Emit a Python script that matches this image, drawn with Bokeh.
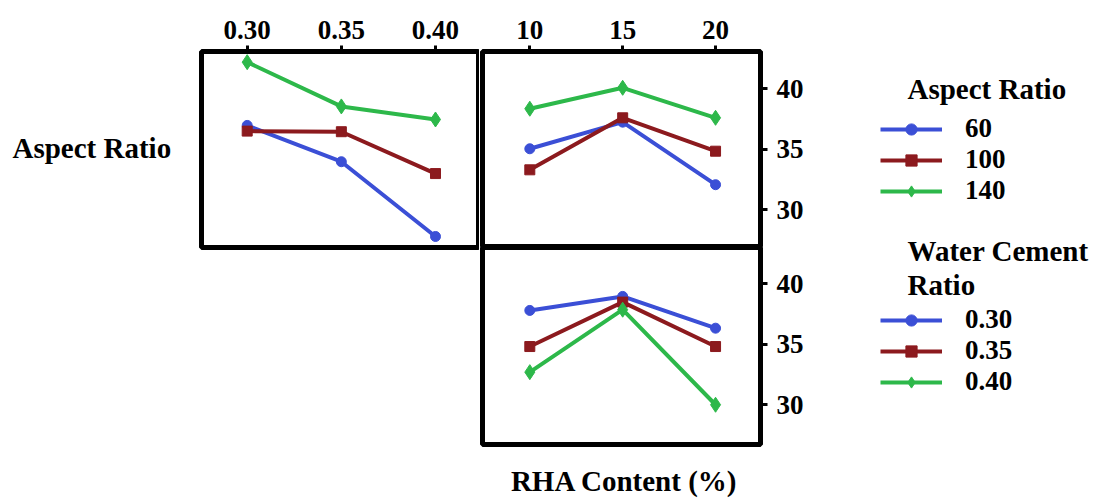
from bokeh.plotting import figure
from bokeh.layouts import row, column
from bokeh.models import (FixedTicker, Range1d, Label, Legend, LegendItem, Spacer,
                          LinearAxis, NumeralTickFormatter)
from bokeh.embed import file_html
from bokeh.resources import INLINE

# ---- data -------------------------------------------------------------
wc_ratio = [0.30, 0.35, 0.40]          # water cement ratio levels
rha_content = [10, 15, 20]             # RHA content (%) levels
aspect_ratios = ["60", "100", "140"]
wc_labels = ["0.30", "0.35", "0.40"]
y_ticks = [30, 35, 40]

# mean response by aspect ratio across water cement ratio
ar60_vs_wc = [36.97, 33.97, 27.79]
ar100_vs_wc = [36.50, 36.45, 32.99]
ar140_vs_wc = [42.20, 38.54, 37.46]

# mean response by aspect ratio across RHA content
ar60_vs_rha = [35.04, 37.24, 32.07]
ar100_vs_rha = [33.30, 37.60, 34.84]
ar140_vs_rha = [38.35, 40.08, 37.60]

# mean response by water cement ratio across RHA content
wc030_vs_rha = [37.79, 38.95, 36.32]
wc035_vs_rha = [34.80, 38.48, 34.80]
wc040_vs_rha = [32.68, 37.85, 29.98]

# ---- styling -----------------------------------------------------------
FONT = "Liberation Serif"
FS = "27px"          # tick and legend entries
FS_TITLE = "29px"    # axis / legend titles
SERIES_STYLE = [("#3b4fd6", "circle", 10), ("#8c1a1e", "square", 10), ("#2db84a", "diamond", 15)]


def make_panel(width, height, x_range, y_range, left, right, top, bottom):
    p = figure(width=width, height=height, x_range=x_range, y_range=y_range,
               x_axis_location=None, y_axis_location=None,
               output_backend="svg", toolbar_location=None,
               min_border_left=left, min_border_right=right,
               min_border_top=top, min_border_bottom=bottom)
    p.grid.visible = False
    p.outline_line_color = "black"
    p.outline_line_width = 5
    p.background_fill_color = "white"
    p.border_fill_color = "white"
    return p


def text_panel(width, height):
    p = figure(width=width, height=height, x_range=Range1d(0, 1), y_range=Range1d(0, 1),
               x_axis_location=None, y_axis_location=None,
               output_backend="svg", toolbar_location=None, min_border=0)
    p.grid.visible = False
    p.outline_line_color = None
    return p


def add_text(p, txt, x, y, align="left", size=FS_TITLE):
    p.add_layout(Label(x=x, y=y, x_units="screen", y_units="screen", text=txt,
                       text_font=FONT, text_font_style="bold", text_font_size=size,
                       text_align=align, text_baseline="alphabetic", text_color="black"))


def style_axis(ax, ticks, tick_out, standoff):
    ax.ticker = FixedTicker(ticks=ticks)
    ax.axis_line_color = None
    ax.major_tick_out = tick_out
    ax.major_tick_in = 0
    ax.major_tick_line_width = 3
    ax.major_tick_line_color = "black"
    ax.minor_tick_line_color = None
    ax.major_label_text_font = FONT
    ax.major_label_text_font_style = "bold"
    ax.major_label_text_font_size = FS
    ax.major_label_text_color = "black"
    ax.major_label_standoff = standoff


def draw_series(p, xs, series):
    for ys, (color, marker, size) in zip(series, SERIES_STYLE):
        p.line(xs, ys, line_width=4, color=color)
        p.scatter(xs, ys, marker=marker, size=size, color=color)


wc_range = Range1d(0.27573, 0.42337)
rha_range = Range1d(7.453, 22.42)
top_y = Range1d(26.88, 43.08)
bottom_y = Range1d(26.69, 43.0)

# row label on the left
p_row_label = text_panel(198, 250)
add_text(p_row_label, "Aspect Ratio", 12, 100)

# top-left: aspect ratio vs water cement ratio
pa = make_panel(281, 250, wc_range, top_y, 3, 0, 51, 3)
ax = LinearAxis(formatter=NumeralTickFormatter(format="0.00"))
style_axis(ax, wc_ratio, 6, 7)
pa.add_layout(ax, "above")
draw_series(pa, wc_ratio, [ar60_vs_wc, ar100_vs_wc, ar140_vs_wc])

# top-right: aspect ratio vs RHA content
pb = make_panel(331, 247, rha_range, top_y, 3, 50, 51, 0)
ax = LinearAxis()
style_axis(ax, rha_content, 6, 7)
pb.add_layout(ax, "above")
ay = LinearAxis()
style_axis(ay, y_ticks, 7, 9)
pb.add_layout(ay, "right")
draw_series(pb, rha_content, [ar60_vs_rha, ar100_vs_rha, ar140_vs_rha])

# bottom-right: water cement ratio vs RHA content
pc = make_panel(331, 200, rha_range, bottom_y, 3, 50, 0, 3)
ay = LinearAxis()
style_axis(ay, y_ticks, 7, 9)
pc.add_layout(ay, "right")
draw_series(pc, rha_content, [wc030_vs_rha, wc035_vs_rha, wc040_vs_rha])

# x-axis title under the bottom panel
p_x_title = text_panel(331, 51)
add_text(p_x_title, "RHA Content (%)", 142, 18, align="center")

# legend column
pl = text_panel(295, 498)
NAN = float("nan")


def add_legend(names, loc):
    items = []
    for name, (color, marker, size) in zip(names, SERIES_STYLE):
        r_line = pl.line(x=[NAN], y=[NAN], line_width=4, color=color)
        r_mark = pl.scatter(x=[NAN], y=[NAN], marker=marker, size=size, color=color)
        items.append(LegendItem(label=name, renderers=[r_line, r_mark]))
    leg = Legend(items=items, location=loc, border_line_color=None,
                 background_fill_alpha=0, padding=0, margin=0, spacing=0,
                 glyph_width=62, glyph_height=28, label_height=28, label_standoff=23,
                 label_text_font=FONT, label_text_font_style="bold",
                 label_text_font_size=FS, label_text_color="black")
    pl.add_layout(leg)


add_legend(aspect_ratios, (70, 292))
add_legend(wc_labels, (70, 101))

add_text(pl, "Aspect Ratio", 97, 410)
add_text(pl, "Water Cement", 97, 248)
add_text(pl, "Ratio", 97, 214)

layout = row(
    column(row(p_row_label, pa), Spacer(width=479, height=248)),
    column(pb, pc, p_x_title),
    pl,
)

open("out.html", "w").write(file_html(layout, INLINE))
